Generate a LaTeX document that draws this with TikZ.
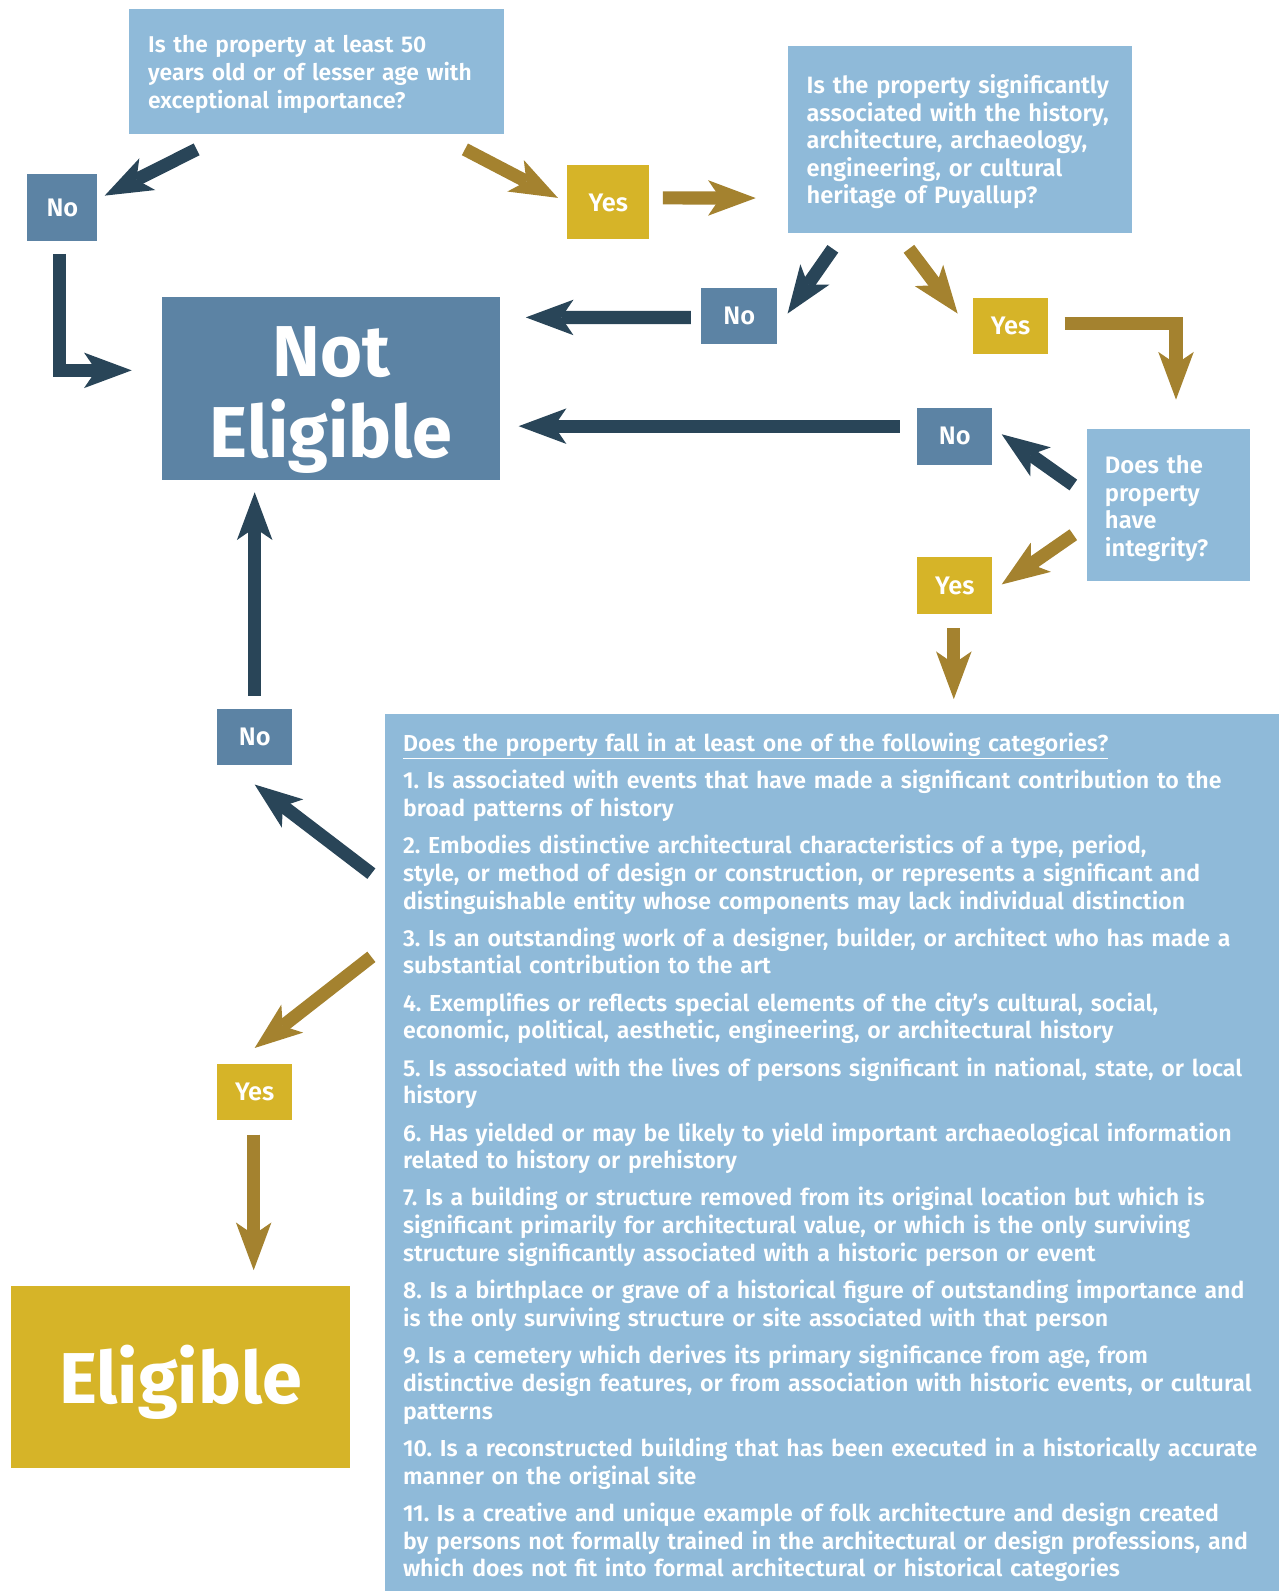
\documentclass[tikz,border=0pt]{standalone}
\usepackage{fontspec}
\setmainfont{Fira Sans}[UprightFont=* SemiBold, BoldFont=* Bold]
\usetikzlibrary{arrows.meta,calc}
\definecolor{qblue}{HTML}{8FBAD9}
\definecolor{noblue}{HTML}{5C83A4}
\definecolor{navy}{HTML}{294558}
\definecolor{ochre}{HTML}{D6B428}
\definecolor{brass}{HTML}{A4822F}
\frenchspacing
\tikzset{
  qbox/.style={fill=qblue,text=white,inner sep=0pt,align=left,font=\fontsize{22.8}{27.4}\selectfont},
  nobox/.style={fill=noblue,text=white,inner sep=0pt,font=\fontsize{25}{28}\selectfont},
  yesbox/.style={fill=ochre,text=white,inner sep=0pt,font=\fontsize{25}{28}\selectfont},
  bigbox/.style={text=white,inner sep=0pt,align=center,minimum width=333pt,minimum height=180pt,text width=333pt,font=\fontsize{71}{80}\selectfont\bfseries},
  noarr/.style={draw=navy,line width=13pt,-{Stealth[length=47pt,width=35pt,inset=12pt,line width=0pt]}},
  yesarr/.style={draw=brass,line width=13pt,-{Stealth[length=47pt,width=35pt,inset=12pt,line width=0pt]}}
}

\begin{document}
\begin{tikzpicture}[x=1pt,y=-1pt]
\useasboundingbox (0,0) rectangle (1260,1568);
\fill[white] (0,0) rectangle (1260,1568);

\node[qbox,minimum width=370pt,minimum height=123pt,text width=332pt,font=\fontsize{22.5}{27.4}\selectfont] (q1) at (312,70.5)
  {\rule{0pt}{23pt}Is the property at least 50\\years old or of lesser age with\\exceptional importance?};
\node[qbox,minimum width=339pt,minimum height=185pt,text width=303pt,font=\fontsize{23.3}{27.1}\selectfont] (q2) at (946.5,137.5)
  {\rule{0pt}{23.5pt}Is the property significantly\\associated with the history,\\architecture, archaeology,\\engineering, or cultural\\heritage of Puyallup?};
\node[qbox,minimum width=161pt,minimum height=150pt,text width=125pt,font=\fontsize{23.5}{27.4}\selectfont] (q3) at (1151.5,498)
  {\rule{0pt}{24.3pt}Does the\\property\\have\\integrity?};

\node[bigbox,fill=noblue] (ne) at (326.5,383) {\rule{0pt}{72pt}Not\\Eligible};
\node[bigbox,fill=ochre,minimum width=334pt,text width=334pt] (el) at (178,1357) {\rule{0pt}{69pt}Eligible};

\node[nobox,minimum width=69pt,minimum height=67pt] (no1) at (61.5,204.5) {No};
\node[yesbox,minimum width=81pt,minimum height=73pt] (yes1) at (599.5,199.5) {Yes};
\node[nobox,minimum width=75pt,minimum height=55pt] (no2) at (728.5,311.5) {No};
\node[yesbox,minimum width=74pt,minimum height=55pt] (yes2) at (996,321.5) {Yes};
\node[nobox,minimum width=74pt,minimum height=56pt] (no3) at (941,430) {No};
\node[yesbox,minimum width=74pt,minimum height=56pt] (yes3) at (941,577) {Yes};
\node[nobox,minimum width=74pt,minimum height=55pt] (no4) at (251,726.5) {No};
\node[yesbox,minimum width=74pt,minimum height=55pt] (yes4) at (251,1076.5) {Yes};

\node[qbox,anchor=north west,inner xsep=18pt,inner ysep=19pt,text width=863pt] (cats) at (379,703)
  {\underline{Does the property fall in at least one of the following categories?}\\[9.2pt]
   1. Is associated with events that have made a significant contribution to the\\
   broad patterns of history\\[9.2pt]
   2. Embodies distinctive architectural characteristics of a type, period,\\
   style, or method of design or construction, or represents a significant and\\
   distinguishable entity whose components may lack individual distinction\\[9.2pt]
   3. Is an outstanding work of a designer, builder, or architect who has made a\\
   substantial contribution to the art\\[9.2pt]
   4. Exemplifies or reflects special elements of the city’s cultural, social,\\
   economic, political, aesthetic, engineering, or architectural history\\[9.2pt]
   5. Is associated with the lives of persons significant in national, state, or local\\
   history\\[9.2pt]
   6. Has yielded or may be likely to yield important archaeological information\\
   related to history or prehistory\\[9.2pt]
   7. Is a building or structure removed from its original location but which is\\
   significant primarily for architectural value, or which is the only surviving\\
   structure significantly associated with a historic person or event\\[9.2pt]
   8. Is a birthplace or grave of a historical figure of outstanding importance and\\
   is the only surviving structure or site associated with that person\\[9.2pt]
   9. Is a cemetery which derives its primary significance from age, from\\
   distinctive design features, or from association with historic events, or cultural\\
   patterns\\[9.2pt]
   10. Is a reconstructed building that has been executed in a historically accurate\\
   manner on the original site\\[9.2pt]
   11. Is a creative and unique example of folk architecture and design created\\
   by persons not formally trained in the architectural or design professions, and\\
   which does not fit into formal architectural or historical categories};

\draw[noarr] ($(q1.south west)+(67,15)$) -- ($(no1.north east)+(7,22)$);
\draw[yesarr] ($(q1.south east)+(-39,15)$) -- ($(yes1.west)+(-9,-4.5)$);
\draw[yesarr] ($(yes1.east)+(13,-4.5)$) -- ($(q2.south west)+(-32,-35)$);
\draw[noarr] ($(no1.south)+(-2.5,12)$) |- ($(ne.west)+(-30,-18)$);
\draw[noarr] ($(q2.south west)+(44,15)$) -- ($(no2.east)+(10,-2.5)$);
\draw[yesarr] ($(q2.south west)+(119,15)$) -- ($(yes2.west)+(-15,-12.5)$);
\draw[noarr] ($(no2.west)+(-10,1.5)$) -- ($(ne.north east)+(25,20)$);
\draw[yesarr] ($(yes2.east)+(16,-2.5)$) -| ($(q3.north)+(7.5,-29)$);
\draw[noarr] ($(no3.west)+(-17,-10)$) -- ($(ne.east)+(18,37)$);
\draw[noarr] ($(q3.west)+(-13,-20)$) -- ($(no3.east)+(9,-2)$);
\draw[yesarr] ($(q3.west)+(-13,29)$) -- ($(yes3.east)+(9,-1)$);
\draw[yesarr] ($(yes3.south)+(-1,14)$) -- ($(yes3.south |- cats.north)+(-1,-14)$);
\draw[noarr] ($(no4.north)+(0,-13)$) -- ($(no4.north |- ne.south)+(0,12)$);
\draw[noarr] ($(cats.north west)+(-13,158)$) -- ($(no4.south)+(0,19)$);
\draw[yesarr] ($(cats.north west)+(-13,240)$) -- ($(yes4.north)+(0,-16)$);
\draw[yesarr] ($(yes4.south)+(-1,14)$) -- ($(yes4.south |- el.north)+(-1,-15)$);
\end{tikzpicture}
\end{document}
